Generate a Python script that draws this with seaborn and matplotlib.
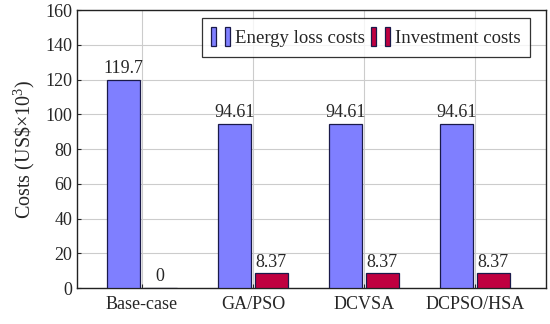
import seaborn as sns
import pandas as pd
import matplotlib.pyplot as plt
from matplotlib.legend_handler import HandlerTuple

methods = ['Base-case', 'GA/PSO', 'DCVSA', 'DCPSO/HSA']
energy_loss = [119.7, 94.61, 94.61, 94.61]
investment = [0, 8.37, 8.37, 8.37]
series = ['Energy loss costs', 'Investment costs']

df = pd.DataFrame({
    'method': methods * 2,
    'cost': energy_loss + investment,
    'type': [series[0]] * 4 + [series[1]] * 4,
})

sns.set_style('white')
plt.rcParams['font.family'] = ['Liberation Serif', 'DejaVu Serif']
plt.rcParams['mathtext.fontset'] = 'custom'
plt.rcParams['mathtext.rm'] = 'Liberation Serif'

fig = plt.figure(figsize=(5.5, 3.24), dpi=100)
ax = fig.add_axes([0.14, 0.111, 0.853, 0.858])

sns.barplot(data=df, x='method', y='cost', hue='type', ax=ax,
            palette=['#7f7fff', '#c00040'], width=0.66, gap=0.1,
            edgecolor='#1a1a4a', linewidth=0.9, saturation=1, zorder=3)

for c in ax.containers:
    ax.bar_label(c, labels=[f'{v:g}' for v in c.datavalues], padding=2, fontsize=13)

ax.set_ylim(0, 160)
ax.set_xlim(-0.585, 3.64)
ax.set_yticks(range(0, 161, 20))
ax.grid(True, color='#cccccc', linewidth=0.8, zorder=0)
ax.set_axisbelow(True)
ax.set_xlabel('')
ax.set_ylabel(r'Costs (US\$$\times\mathrm{10}^\mathrm{3}$)', fontsize=14.5, labelpad=6)
ax.tick_params(axis='both', labelsize=13, direction='in', length=3, left=True, bottom=True)
ax.tick_params(axis='x', pad=6)
for s in ax.spines.values():
    s.set_color('#222222')
    s.set_linewidth(1.0)

# legend entries drawn as two small bars each
handles, labels = ax.get_legend_handles_labels()
ax.get_legend().remove()
leg = ax.legend([(h, h) for h in handles], labels,
                handler_map={tuple: HandlerTuple(ndivide=None, pad=0.5)},
                loc='upper right', bbox_to_anchor=(0.966, 0.972), ncol=2,
                fontsize=13.5, frameon=True, fancybox=False, edgecolor='black',
                handlelength=1.0, handleheight=1.2, handletextpad=0.3,
                columnspacing=0.3, borderpad=0.5, borderaxespad=0)
leg.get_frame().set_linewidth(0.9)

fig.savefig('out.png', dpi=100)
